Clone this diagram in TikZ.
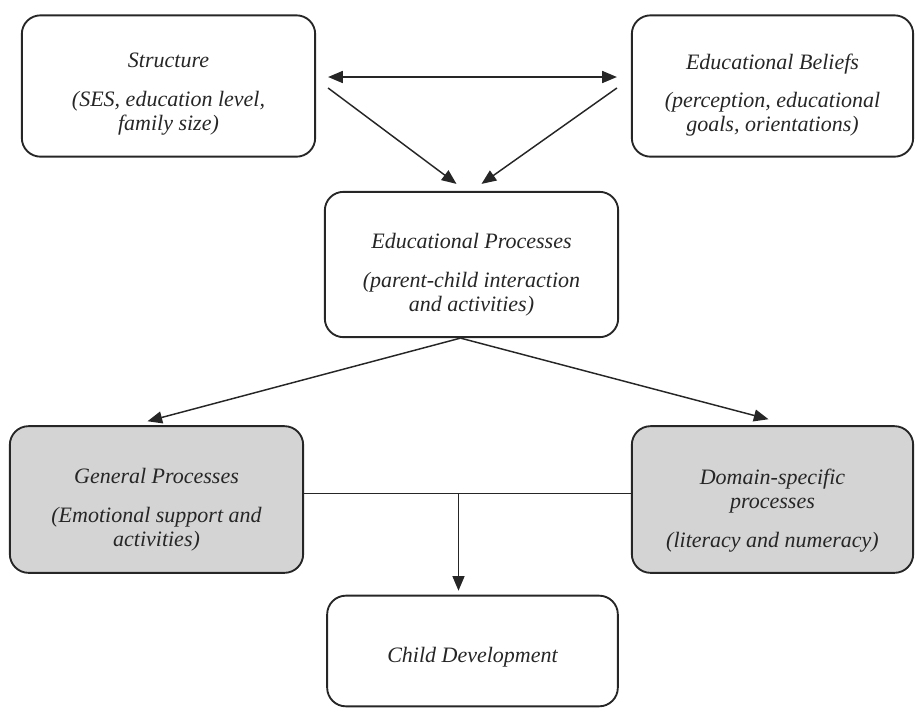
\documentclass[tikz,border=0pt]{standalone}
\usepackage{fontspec}
\setmainfont{Liberation Serif}
\usepackage{tikz}
\usetikzlibrary{arrows.meta,calc}

\tikzset{
  box/.style={draw=black!85, line width=1.4pt, rounded corners=14pt, inner sep=0pt},
  greybox/.style={box, fill=black!17},
  txt/.style={align=center, inner sep=0pt, text=black!85, font=\itshape\fontsize{16.5}{18}\selectfont},
  tip/.style={Triangle[length=11pt,width=9pt]},
  arr/.style={line width=1.1pt, draw=black!85, -{Triangle[length=11pt,width=9pt]}},
}

\begin{document}
\begin{tikzpicture}[x=0.75pt,y=0.75pt,yscale=-1,xscale=1]
\useasboundingbox (0,0) rectangle (915,708);

%Rounded Rect: Structure
\node[box, minimum width=220pt, minimum height=106pt] (structure) at (168.5,86) {};
%Rounded Rect: Educational Beliefs
\node[box, minimum width=211pt, minimum height=106pt] (beliefs) at (772.5,86) {};
%Rounded Rect: Educational Processes
\node[box, minimum width=220pt, minimum height=109pt] (processes) at (471.5,264.5) {};
%Rounded Rect: General Processes
\node[greybox, minimum width=220pt, minimum height=110pt] (general) at (156.5,499.5) {};
%Rounded Rect: Domain-specific processes
\node[greybox, minimum width=211pt, minimum height=110pt] (domain) at (772.5,499.5) {};
%Rounded Rect: Child Development
\node[box, minimum width=218pt, minimum height=83pt] (child) at (472.5,651) {};

% Text Node
\node[txt] (structuretxt) at ($(structure)+(0,8)$) {Structure\\[11pt](SES, education level,\\family size)};
% Text Node
\node[txt] (beliefstxt) at ($(beliefs)+(0,9)$) {Educational Beliefs\\[11pt](perception, educational\\goals, orientations)};
% Text Node
\node[txt] (processestxt) at ($(processes)+(0,10)$) {Educational Processes\\[11pt](parent-child interaction\\and activities)};
% Text Node
\node[txt] (generaltxt) at ($(general)+(0,10)$) {General Processes\\[11pt](Emotional support and\\activities)};
% Text Node
\node[txt] (domaintxt) at ($(domain)+(0,11)$) {Domain-specific\\processes\\[11pt](literacy and numeracy)};
% Text Node
\node[txt] (childtxt) at ($(child)+(0,6)$) {Child Development};

%Straight Lines
\draw[arr, {Triangle[length=11pt,width=9pt]}-{Triangle[length=11pt,width=9pt]}]
  ($(structure.east)+(12,-9)$) -- ($(beliefs.west)+(-14,-9)$);
\draw[arr] ($(structure.east)+(12,2)$) -- ($(processes.north)+(-15,-7)$);
\draw[arr] ($(beliefs.west)+(-14,2)$) -- ($(processes.north)+(10,-7)$);
%Straight Lines
\coordinate (apex) at ($(processes.south)+(-11,0)$);
\draw[arr] (apex) -- ($(general.north)+(-9,-4)$);
\draw[arr] (apex) -- ($(domain.north)+(-4,-6)$);
%Straight Lines
\coordinate (junction) at ($(general.east)!0.5!(domain.west)+(-9,-6)$);
\draw[line width=1.1pt, draw=black!85] ($(general.east)+(0,-6)$) -- ($(domain.west)+(0,-6)$);
\draw[arr] (junction) -- ($(junction |- child.north)+(0,-4)$);
\end{tikzpicture}
\end{document}
